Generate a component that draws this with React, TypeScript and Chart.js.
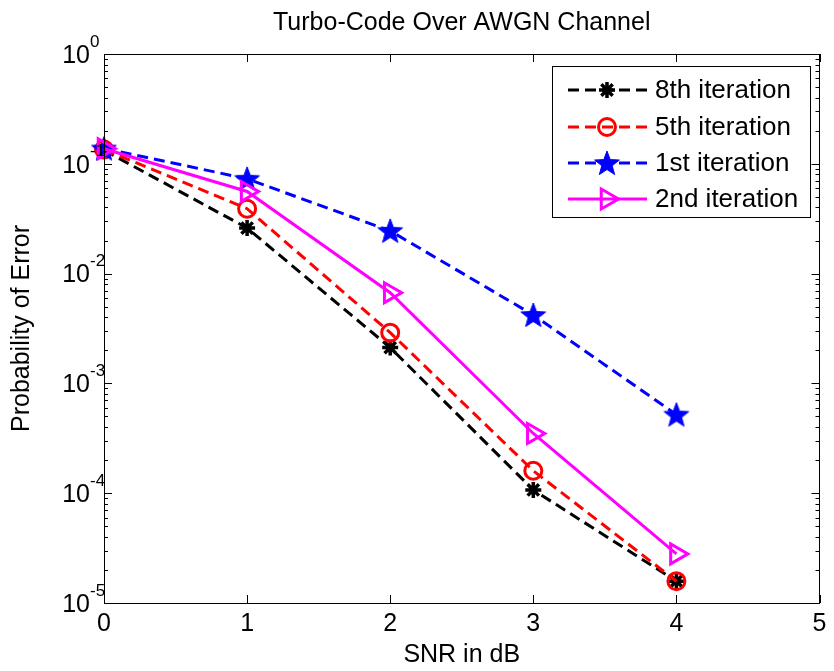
import React, { useEffect, useRef } from 'react';
import { Chart, registerables } from 'chart.js';
import { drawPoint } from 'chart.js/helpers';

Chart.register(...registerables);

// ---- data ----
const snrDb = [0, 1, 2, 3, 4];
const iter8 = [0.133, 0.026, 0.00212, 0.000107, 1.58e-5];
const iter5 = [0.135, 0.039, 0.0029, 0.00016, 1.58e-5];
const iter1 = [0.138, 0.073, 0.0245, 0.0042, 0.00052];
const iter2 = [0.137, 0.056, 0.0067, 0.00035, 2.8e-5];
const seriesLabels = ['8th iteration', '5th iteration', '1st iteration', '2nd iteration'];
const xTicks = [0, 1, 2, 3, 4, 5];
const yExponents = [0, -1, -2, -3, -4, -5];
const chartTitle = 'Turbo-Code Over AWGN Channel';
const xTitle = 'SNR in dB';
const yTitle = 'Probability of Error';

const FONT = "'Liberation Sans', Arial, Helvetica, sans-serif";

function makePentagram(color: string, r: number): HTMLCanvasElement {
  const c = document.createElement('canvas');
  const s = Math.ceil(r * 2 + 2);
  c.width = s;
  c.height = s;
  const g = c.getContext('2d')!;
  const cx = s / 2;
  const cy = s / 2 + r * 0.08;
  const inner = r * 0.42;
  g.beginPath();
  for (let i = 0; i < 10; i++) {
    const rad = i % 2 === 0 ? r : inner;
    const a = -Math.PI / 2 + (i * Math.PI) / 5;
    const px = cx + rad * Math.cos(a);
    const py = cy + rad * Math.sin(a);
    if (i === 0) g.moveTo(px, py);
    else g.lineTo(px, py);
  }
  g.closePath();
  g.fillStyle = color;
  g.fill();
  g.strokeStyle = color;
  g.lineWidth = 1;
  g.stroke();
  return c;
}

const matlabPlugin = {
  id: 'matlabDecor',
  afterDraw(chart: any) {
    const ctx: CanvasRenderingContext2D = chart.ctx;
    const { left, right, top, bottom } = chart.chartArea;
    const xs = chart.scales.x;
    const ys = chart.scales.y;
    ctx.save();
    // box
    ctx.strokeStyle = '#000';
    ctx.lineWidth = 1;
    ctx.strokeRect(Math.round(left) + 0.5, Math.round(top) + 0.5, Math.round(right - left) - 1, Math.round(bottom - top));
    // x ticks
    ctx.beginPath();
    xTicks.forEach((v) => {
      const px = Math.round(xs.getPixelForValue(v)) + 0.5;
      ctx.moveTo(px, bottom);
      ctx.lineTo(px, bottom - 8);
      ctx.moveTo(px, top);
      ctx.lineTo(px, top + 8);
    });
    // y ticks major + minor
    yExponents.forEach((e) => {
      const py = Math.round(ys.getPixelForValue(Math.pow(10, e))) + 0.5;
      ctx.moveTo(left, py);
      ctx.lineTo(left + 8, py);
      ctx.moveTo(right, py);
      ctx.lineTo(right - 8, py);
      if (e > -5) {
        for (let m = 2; m <= 9; m++) {
          const pm = Math.round(ys.getPixelForValue(m * Math.pow(10, e - 1))) + 0.5;
          ctx.moveTo(left, pm);
          ctx.lineTo(left + 4, pm);
          ctx.moveTo(right, pm);
          ctx.lineTo(right - 4, pm);
        }
      }
    });
    ctx.stroke();

    // y labels 10^e
    ctx.fillStyle = '#000';
    yExponents.forEach((e) => {
      const py = ys.getPixelForValue(Math.pow(10, e));
      ctx.font = `25px ${FONT}`;
      ctx.textAlign = 'right';
      ctx.textBaseline = 'middle';
      ctx.fillText('10', left - 14, py + 2);
      ctx.font = `17px ${FONT}`;
      ctx.textAlign = 'left';
      ctx.fillText(String(e), left - 14, py - 12);
    });

    // titles
    ctx.font = `25px ${FONT}`;
    ctx.textAlign = 'center';
    ctx.textBaseline = 'middle';
    ctx.fillText(chartTitle, (left + right) / 2, 23);
    ctx.fillText(xTitle, (left + right) / 2, 655);
    ctx.save();
    ctx.translate(22, (top + bottom) / 2);
    ctx.rotate(-Math.PI / 2);
    ctx.fillText(yTitle, 0, 0);
    ctx.restore();

    // legend
    const lx0 = 552, ly0 = 66, lx1 = 810, ly1 = 217;
    ctx.fillStyle = '#fff';
    ctx.fillRect(lx0, ly0, lx1 - lx0, ly1 - ly0);
    ctx.strokeStyle = '#000';
    ctx.lineWidth = 1;
    ctx.strokeRect(lx0 + 0.5, ly0 + 0.5, lx1 - lx0, ly1 - ly0);
    const rowY = [90, 127, 163, 199];
    chart.data.datasets.forEach((ds: any, i: number) => {
      const y = rowY[i];
      ctx.save();
      ctx.strokeStyle = ds.borderColor;
      ctx.lineWidth = ds.borderWidth;
      ctx.setLineDash(ds.borderDash || []);
      ctx.beginPath();
      ctx.moveTo(568, y);
      ctx.lineTo(647, y);
      ctx.stroke();
      ctx.setLineDash([]);
      ctx.strokeStyle = ds.pointBorderColor;
      ctx.fillStyle = ds.pointBackgroundColor;
      ctx.lineWidth = ds.pointBorderWidth;
      drawPoint(ctx, {
        pointStyle: ds.pointStyle,
        rotation: ds.pointRotation || 0,
        radius: ds.pointRadius,
        borderWidth: ds.pointBorderWidth,
      }, 607, y);
      ctx.restore();
      ctx.fillStyle = '#000';
      ctx.font = `26px ${FONT}`;
      ctx.textAlign = 'left';
      ctx.textBaseline = 'middle';
      ctx.fillText(ds.label, 655, y + 1);
    });
    ctx.restore();
  },
};

export default function App() {
  const ref = useRef<HTMLCanvasElement | null>(null);
  useEffect(() => {
    document.body.style.margin = '0';
    const canvas = ref.current!;
    const toPts = (arr: number[]) => snrDb.map((x, i) => ({ x, y: arr[i] }));
    const star = makePentagram('#0000ff', 13);
    const chart = new Chart(canvas, {
      type: 'line',
      data: {
        datasets: [
          {
            label: seriesLabels[0],
            data: toPts(iter8),
            borderColor: '#000000',
            borderWidth: 3,
            borderDash: [11, 6],
            pointStyle: 'star',
            pointRadius: 8,
            pointBorderWidth: 3.5,
            pointBorderColor: '#000000',
            pointBackgroundColor: '#000000',
            order: 4,
          },
          {
            label: seriesLabels[1],
            data: toPts(iter5),
            borderColor: '#ff0000',
            borderWidth: 3,
            borderDash: [11, 6],
            pointStyle: 'circle',
            pointRadius: 8.5,
            pointBorderWidth: 3,
            pointBorderColor: '#ff0000',
            pointBackgroundColor: 'rgba(0,0,0,0)',
            order: 3,
          },
          {
            label: seriesLabels[2],
            data: toPts(iter1),
            borderColor: '#0000ff',
            borderWidth: 3,
            borderDash: [11, 6],
            pointStyle: star,
            pointRadius: 13,
            pointBorderWidth: 1,
            pointBorderColor: '#0000ff',
            pointBackgroundColor: '#0000ff',
            order: 2,
          },
          {
            label: seriesLabels[3],
            data: toPts(iter2),
            borderColor: '#ff00ff',
            borderWidth: 3,
            pointStyle: 'triangle',
            pointRotation: 90,
            pointRadius: 11.5,
            pointBorderWidth: 3,
            pointBorderColor: '#ff00ff',
            pointBackgroundColor: 'rgba(0,0,0,0)',
            order: 1,
          },
        ] as any,
      },
      options: {
        animation: false,
        responsive: false,
        maintainAspectRatio: false,
        layout: { padding: { top: 54, right: 10, left: 0, bottom: 0 } },
        plugins: { legend: { display: false }, title: { display: false }, tooltip: { enabled: false } },
        elements: { line: { tension: 0, fill: false } },
        datasets: { line: { clip: false } as any },
        scales: {
          x: {
            type: 'linear',
            min: 0,
            max: 5,
            ticks: {
              stepSize: 1,
              color: '#000',
              font: { family: FONT, size: 25 },
              padding: 6,
              maxRotation: 0,
            },
            grid: { display: false, drawTicks: false },
            border: { display: false },
            afterFit: (s: any) => { s.height = 68; s.paddingLeft = 0; s.paddingRight = 0; },
          },
          y: {
            type: 'logarithmic',
            min: 1e-5,
            max: 1,
            ticks: { display: false },
            grid: { display: false, drawTicks: false },
            border: { display: false },
            afterFit: (s: any) => { s.width = 104; s.paddingTop = 0; s.paddingBottom = 0; },
          },
        },
      },
      plugins: [matlabPlugin],
    });
    return () => chart.destroy();
  }, []);
  return (
    <div style={{ width: 834, height: 671, background: '#fff' }}>
      <canvas ref={ref} width={834} height={671} style={{ display: 'block' }} />
    </div>
  );
}
